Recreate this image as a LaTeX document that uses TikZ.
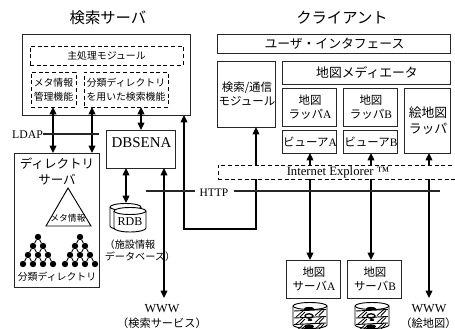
\documentclass[tikz,border=0pt]{standalone}
\usepackage{fontspec}
\setmainfont{Liberation Serif}
\newfontfamily\jp{Noto Sans CJK JP}
\usetikzlibrary{arrows.meta}
\newcommand{\fs}[2]{\fontsize{#1}{#2}\selectfont}
\newcommand{\lat}[1]{{\rmfamily #1}}
% Box given by its corners: style, name, x1, y1, x2, y2, text
\newcommand{\pxbox}[7][]{%
  \node[boxbase,#1,minimum width={(#5-#3)*0.75pt},minimum height={(#6-#4)*0.75pt}]
    (#2) at ({(#3+#5)/2},{(#4+#6)/2}) {#7};}
\tikzset{
  x=0.75pt,y=-0.75pt,
  boxbase/.style={rectangle,inner sep=0pt,outer sep=0pt,align=center,fill=white},
  solidbox/.style={draw=black!85,line width=0.75pt},
  dashbox/.style={draw=black,line width=0.65pt,densely dashed},
  small/.style={font=\jp\fs{7.4}{10.5}},
  normal/.style={font=\jp\fs{8.6}{11}},
  large/.style={font=\jp\fs{9.6}{12}},
  label/.style={inner sep=0pt,outer sep=0pt,align=center},
  heading/.style={label,font=\jp\fs{11.5}{14}},
  latin/.style={label,font=\rmfamily\fs{9.2}{11}},
  link/.style={line width=1pt,black,>={Triangle[length=5.5pt,width=5pt]},<->},
  bus/.style={line width=1.4pt,black!85},
  treedot/.style={circle,fill=black,inner sep=0pt,minimum size=4.8pt},
  treeedge/.style={line width=0.7pt},
  tree/.pic={
    \foreach \n/\px/\py in {a/0/0,b/-5/9,c/5/9,d/-10/18,e/0/18,f/10/18,g/-15/27,h/-5/27,i/5/27,j/15/27}
      \node[treedot] (-\n) at (\px,\py) {};
    \foreach \p/\q in {a/b,a/c,b/d,b/e,c/e,c/f,d/g,d/h,e/h,e/i,f/i,f/j}
      \draw[treeedge] (-\p) -- (-\q);
  },
  diskstack/.pic={
    % The y axis points down, so an arc through 90 degrees bulges downward
    \draw[line width=0.7pt,fill=white] (0,4) -- (0,23) arc[start angle=180,end angle=0,x radius=17,y radius=3.5] -- (34,4);
    \draw[line width=0.7pt,fill=white] (17,4) ellipse[x radius=17,y radius=3.5];
    \foreach \yy in {8.5,15.5,22}{
      \draw[line width=0.7pt] (1,\yy+0.5) -- (33,\yy-1);
    }
    \foreach \xa/\ya in {3/9,3/16,3/23,22/7.5,22/14.5,22/21}{
      \draw[line width=0.6pt] (\xa,\ya+6) -- (\xa+7,\ya);
      \draw[line width=0.6pt] (\xa+4,\ya+6) -- (\xa+9,\ya+1);
    }
    \fill (16,6.5) ellipse[x radius=5,y radius=1.6];
    \draw[line width=1pt] (16,14) ellipse[x radius=4,y radius=2.2];
    \fill (16,24.5) ellipse[x radius=5,y radius=2.2];
    \fill (17,18) ellipse[x radius=2.5,y radius=1];
  }
}
\begin{document}
\begin{tikzpicture}
\useasboundingbox (0,0) rectangle (455,329);
\clip (0,0) rectangle (455,329);

% Column positions used by the vertical connectors
\coordinate (colA) at (53,0);
\coordinate (colB) at (92,0);
\coordinate (colC) at (141,0);
\coordinate (colD) at (126,0);
\coordinate (colE) at (164,0);
\coordinate (colF) at (310,0);
\coordinate (colG) at (371,0);
\coordinate (colH) at (429,0);
\coordinate (elbow) at (184,229);
\coordinate (elbowEnd) at (256,229);
\coordinate (wwwL) at (164,298);
\coordinate (wwwR) at (429,298);
\coordinate (rdbTop) at (126,203);

% Headings
\node[heading] (hServer) at (108,18) {検索サーバ};
\node[heading] (hClient) at (342,18) {クライアント};

% Search server
\pxbox[solidbox]{server}{23}{34}{191}{115}{}
\pxbox[dashbox,small]{mainMod}{30}{46}{183}{65}{主処理モジュール}
\pxbox[dashbox,small]{metaFn}{31}{72}{76}{107}{メタ情報\\管理機能}
\pxbox[dashbox,small]{searchFn}{84}{72}{168}{107}{分類ディレクトリ\\を用いた検索機能}
\pxbox[solidbox]{dbsena}{107}{130}{176}{168}{}
\node[label,font=\rmfamily\fs{11.2}{13}] (dbsenaName) at (141.5,143) {DBSENA};

% Directory server
\pxbox[solidbox]{dirServer}{15}{153}{100}{287}{}
\node[label,large,font=\jp\fs{9.4}{12}] (dirTitle) at (57,171) {ディレクトリ\\サーバ};
\coordinate (triTop) at (68,188);
\coordinate (triL) at (46,226);
\coordinate (triR) at (91,226);
\draw[line width=0.7pt] (triTop) -- (triR) -- (triL) -- cycle;
\node[label,font=\jp\fs{6.6}{8}] (metaLabel) at (68,218) {メタ情報};
\pic (treeA) at (38,237) {tree};
\pic (treeB) at (80,237) {tree};
\node[label,font=\jp\fs{7.4}{9}] (treeLabel) at (57,277) {分類ディレクトリ};

% Client stack
\pxbox[solidbox,large]{ui}{218}{34}{451}{53}{ユーザ・インタフェース}
\pxbox[solidbox,normal]{comm}{218}{61}{276}{127}{検索/通信\\モジュール}
\pxbox[solidbox,large]{mediator}{283}{61}{451}{84}{地図メディエータ}
\pxbox[solidbox,normal]{wrapA}{283}{88}{337}{126}{地図\\ラッパ\lat{A}}
\pxbox[solidbox,normal]{wrapB}{344}{88}{398}{126}{地図\\ラッパ\lat{B}}
\pxbox[solidbox,normal]{viewA}{283}{130}{337}{153}{ビューア\lat{A}}
\pxbox[solidbox,normal]{viewB}{344}{130}{398}{153}{ビューア\lat{B}}
\pxbox[solidbox,large]{drawWrap}{405}{88}{451}{153}{絵地図\\ラッパ}

% Map servers
\pxbox[solidbox,normal]{mapA}{287}{260}{341}{298}{地図\\サーバ\lat{A}}
\pxbox[solidbox,normal]{mapB}{348}{260}{402}{298}{地図\\サーバ\lat{B}}
\pic at (293,302) {diskstack};
\pic at (355,302) {diskstack};

% Relational database: rear cylinder, then front cylinder
\draw[line width=0.7pt,fill=white] (110,226) -- (110,207) arc[start angle=180,end angle=360,x radius=15.5,y radius=3.5] -- (141,226) arc[start angle=0,end angle=180,x radius=15.5,y radius=4];
\draw[line width=0.7pt] (110,207) arc[start angle=180,end angle=0,x radius=15.5,y radius=3.5];
\draw[line width=0.7pt,fill=white] (114,211) -- (114,228) arc[start angle=180,end angle=0,x radius=16,y radius=4] -- (146,211);
\draw[line width=0.7pt,fill=white] (130,211) ellipse[x radius=16,y radius=3.5];
\node[label,font=\rmfamily\fs{9}{11}] (rdb) at (130,222) {RDB};
\node[label,font=\jp\fs{7.6}{9}] (rdbNoteA) at (130,245) {（施設情報};
\node[label,font=\jp\fs{7.6}{9}] (rdbNoteB) at (140,257) {データベース）};

% Connectors
\draw[link] (metaFn.south -| colA) -- (dirServer.north -| colA);
\draw[link] (searchFn.south -| colB) -- (dirServer.north -| colB);
\draw[link] (searchFn.south -| colC) -- (dbsena.north -| colC);
\draw[link] (dbsena.south -| colD) -- (rdbTop);
\draw[link] (dbsena.south -| colE) -- (wwwL);
\draw[link] (server.south -| elbow) -- (elbow) -- (elbowEnd) -- (comm.south -| elbowEnd);
\draw[link] (viewA.south -| colF) -- (mapA.north -| colF);
\draw[link] (viewB.south -| colG) -- (mapB.north -| colG);
\draw[link] (drawWrap.south -| colH) -- (wwwR);

% Browser band sits over the vertical links
\pxbox[dashbox,font=\rmfamily\fs{9.5}{10}]{browser}{218}{165}{458}{179}{Internet Explorer ™}

% Protocol buses
\node[latin,font=\rmfamily\fs{8.8}{10}] (ldap) at (27.5,135) {LDAP};
\coordinate (ldapEnd) at (99,134);
\draw[bus] (ldap.east |- ldapEnd) -- (ldapEnd);
\node[latin,font=\rmfamily\fs{8.6}{10}] (http) at (214,193) {HTTP};
\coordinate (httpL) at (146,191);
\coordinate (httpR) at (440,191);
\draw[bus] (httpL) -- ([xshift=-3.5pt]http.west |- httpL);
\draw[bus] ([xshift=4pt]http.east |- httpR) -- (httpR);

% Lower labels
\node[latin] (wwwLeft) at (162,309) {WWW};
\node[label,font=\jp\fs{8.4}{10}] (wwwLeftNote) at (162,323) {（検索サービス）};
\node[latin] (wwwRight) at (429,309) {WWW};
\node[label,font=\jp\fs{8.4}{10}] (wwwRightNote) at (428.5,323) {\hspace*{-0.5em}（絵地図）\hspace*{-0.5em}};
\end{tikzpicture}
\end{document}
